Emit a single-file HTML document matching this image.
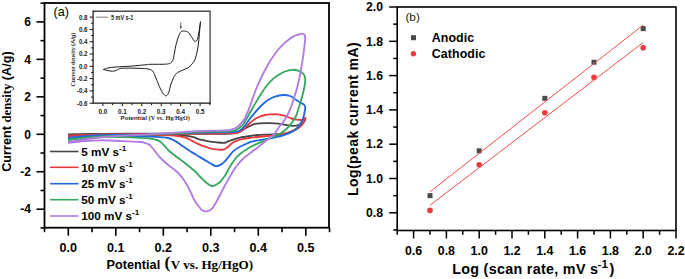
<!DOCTYPE html>
<html><head><meta charset="utf-8"><style>
html,body{margin:0;padding:0;background:#fff;}
svg{display:block;}
text{font-family:"Liberation Sans",sans-serif;}
.b{font-weight:bold;}
.serif{font-family:"Liberation Serif",serif;}
</style></head><body>
<svg width="685" height="279" viewBox="0 0 685 279">
<rect width="685" height="279" fill="#fff"/>

<path d="M68.80,134.40C74.00,134.30 88.13,133.93 100.00,133.80C111.87,133.67 126.67,133.62 140.00,133.60C153.33,133.58 170.00,133.65 180.00,133.70C190.00,133.75 192.50,133.88 200.00,133.90C207.50,133.92 219.33,133.92 225.00,133.80C230.67,133.68 231.50,133.57 234.00,133.20C236.50,132.83 238.17,132.38 240.00,131.60C241.83,130.82 243.33,129.43 245.00,128.50C246.67,127.57 248.33,126.77 250.00,126.00C251.67,125.23 253.33,124.35 255.00,123.90C256.67,123.45 257.50,123.42 260.00,123.30C262.50,123.18 266.90,123.13 270.00,123.20C273.10,123.27 275.97,123.40 278.60,123.70C281.23,124.00 283.42,124.65 285.80,125.00C288.18,125.35 290.75,125.78 292.90,125.80C295.05,125.82 297.10,125.53 298.70,125.10C300.30,124.67 301.45,124.00 302.50,123.20C303.55,122.40 304.58,120.78 305.00,120.30C304.42,121.10 303.03,123.58 301.50,125.10C299.97,126.62 298.38,128.02 295.80,129.40C293.22,130.78 290.00,132.57 286.00,133.40C282.00,134.23 276.55,134.13 271.80,134.40C267.05,134.67 261.13,134.73 257.50,135.00C253.87,135.27 252.90,135.57 250.00,136.00C247.10,136.43 242.92,137.00 240.10,137.60C237.28,138.20 235.25,138.88 233.10,139.60C230.95,140.32 228.77,141.35 227.20,141.90C225.63,142.45 225.45,142.82 223.70,142.90C221.95,142.98 219.22,142.65 216.70,142.40C214.18,142.15 211.32,141.85 208.60,141.40C205.88,140.95 202.93,140.40 200.40,139.70C197.87,139.00 196.13,137.87 193.40,137.20C190.67,136.53 187.90,136.05 184.00,135.70C180.10,135.35 177.33,135.30 170.00,135.10C162.67,134.90 151.67,134.63 140.00,134.50C128.33,134.37 111.87,134.30 100.00,134.30C88.13,134.30 74.00,134.47 68.80,134.50" fill="none" stroke="#474747" stroke-width="1.85" stroke-linejoin="round" stroke-linecap="round"/>
<path d="M68.80,135.70C74.00,135.47 86.47,134.62 100.00,134.30C113.53,133.98 133.33,133.93 150.00,133.80C166.67,133.67 186.67,133.57 200.00,133.50C213.33,133.43 223.83,133.52 230.00,133.40C236.17,133.28 235.17,133.15 237.00,132.80C238.83,132.45 239.67,132.10 241.00,131.30C242.33,130.50 243.50,129.38 245.00,128.00C246.50,126.62 248.33,124.50 250.00,123.00C251.67,121.50 253.33,120.08 255.00,119.00C256.67,117.92 258.32,117.17 260.00,116.50C261.68,115.83 263.43,115.35 265.10,115.00C266.77,114.65 267.98,114.52 270.00,114.40C272.02,114.28 274.82,114.10 277.20,114.30C279.58,114.50 281.92,114.90 284.30,115.60C286.68,116.30 289.50,117.83 291.50,118.50C293.50,119.17 294.67,119.35 296.30,119.60C297.93,119.85 300.05,120.13 301.30,120.00C302.55,119.87 303.08,119.17 303.80,118.80C304.52,118.43 305.30,117.97 305.60,117.80C305.40,118.22 304.97,119.22 304.40,120.30C303.83,121.38 303.32,122.95 302.20,124.30C301.08,125.65 299.72,127.08 297.70,128.40C295.68,129.72 293.03,131.17 290.10,132.20C287.17,133.23 283.15,134.03 280.10,134.60C277.05,135.17 275.57,135.20 271.80,135.60C268.03,136.00 261.13,136.62 257.50,137.00C253.87,137.38 252.12,137.62 250.00,137.90C247.88,138.18 246.83,138.30 244.80,138.70C242.77,139.10 239.95,139.55 237.80,140.30C235.65,141.05 233.67,141.98 231.90,143.20C230.13,144.42 228.57,146.55 227.20,147.60C225.83,148.65 225.05,149.15 223.70,149.50C222.35,149.85 221.03,149.82 219.10,149.70C217.17,149.58 214.45,149.30 212.10,148.80C209.75,148.30 207.35,147.53 205.00,146.70C202.65,145.87 200.13,144.77 198.00,143.80C195.87,142.83 194.13,141.88 192.20,140.90C190.27,139.92 188.55,138.67 186.40,137.90C184.25,137.13 182.03,136.73 179.30,136.30C176.57,135.87 176.55,135.52 170.00,135.30C163.45,135.08 151.67,135.07 140.00,135.00C128.33,134.93 111.87,134.72 100.00,134.90C88.13,135.08 74.00,135.90 68.80,136.10" fill="none" stroke="#e8383d" stroke-width="1.85" stroke-linejoin="round" stroke-linecap="round"/>
<path d="M68.80,137.80C74.00,137.37 86.47,135.77 100.00,135.20C113.53,134.63 133.33,134.82 150.00,134.40C166.67,133.98 187.00,133.05 200.00,132.70C213.00,132.35 222.00,132.48 228.00,132.30C234.00,132.12 234.00,131.90 236.00,131.60C238.00,131.30 238.50,131.52 240.00,130.50C241.50,129.48 243.33,127.50 245.00,125.50C246.67,123.50 248.43,120.55 250.00,118.50C251.57,116.45 252.60,115.28 254.40,113.20C256.20,111.12 258.65,108.13 260.80,106.00C262.95,103.87 264.93,101.97 267.30,100.40C269.67,98.83 272.37,97.50 275.00,96.60C277.63,95.70 280.58,95.10 283.10,95.00C285.62,94.90 288.12,95.30 290.10,96.00C292.08,96.70 293.35,98.13 295.00,99.20C296.65,100.27 298.57,101.57 300.00,102.40C301.43,103.23 302.73,103.50 303.60,104.20C304.47,104.90 304.93,106.20 305.20,106.60C305.17,107.17 305.30,108.20 305.00,110.00C304.70,111.80 304.12,115.20 303.40,117.40C302.68,119.60 301.68,121.50 300.70,123.20C299.72,124.90 298.87,126.22 297.50,127.60C296.13,128.98 294.42,130.38 292.50,131.50C290.58,132.62 288.73,133.35 286.00,134.30C283.27,135.25 279.65,136.37 276.10,137.20C272.55,138.03 268.52,138.62 264.70,139.30C260.88,139.98 255.65,140.82 253.20,141.30C250.75,141.78 251.37,141.68 250.00,142.20C248.63,142.72 246.82,143.57 245.00,144.40C243.18,145.23 240.98,146.12 239.10,147.20C237.22,148.28 235.32,149.47 233.70,150.90C232.08,152.33 230.83,154.10 229.40,155.80C227.97,157.50 226.53,159.63 225.10,161.10C223.67,162.57 222.32,163.75 220.80,164.60C219.28,165.45 217.62,166.33 216.00,166.20C214.38,166.07 212.80,164.73 211.10,163.80C209.40,162.87 207.58,161.67 205.80,160.60C204.02,159.53 202.20,158.48 200.40,157.40C198.60,156.32 196.95,155.30 195.00,154.10C193.05,152.90 190.92,151.63 188.70,150.20C186.48,148.77 183.85,146.97 181.70,145.50C179.55,144.03 177.75,142.57 175.80,141.40C173.85,140.23 172.63,139.22 170.00,138.50C167.37,137.78 165.00,137.47 160.00,137.10C155.00,136.73 150.00,136.50 140.00,136.30C130.00,136.10 111.87,135.58 100.00,135.90C88.13,136.22 74.00,137.82 68.80,138.20" fill="none" stroke="#2169e0" stroke-width="1.85" stroke-linejoin="round" stroke-linecap="round"/>
<path d="M68.80,139.60C74.00,139.05 86.47,137.13 100.00,136.30C113.53,135.47 133.33,135.32 150.00,134.60C166.67,133.88 187.00,132.52 200.00,132.00C213.00,131.48 222.17,131.77 228.00,131.50C233.83,131.23 233.17,130.97 235.00,130.40C236.83,129.83 237.67,129.08 239.00,128.10C240.33,127.12 241.52,126.43 243.00,124.50C244.48,122.57 246.28,119.28 247.90,116.50C249.52,113.72 250.88,110.95 252.70,107.80C254.52,104.65 256.70,100.98 258.80,97.60C260.90,94.22 263.18,90.38 265.30,87.50C267.42,84.62 269.38,82.33 271.50,80.30C273.62,78.27 275.75,76.77 278.00,75.30C280.25,73.83 282.63,72.42 285.00,71.50C287.37,70.58 289.80,69.85 292.20,69.80C294.60,69.75 297.48,70.45 299.40,71.20C301.32,71.95 302.73,73.00 303.70,74.30C304.67,75.60 305.02,77.22 305.20,79.00C305.38,80.78 304.87,84.00 304.80,85.00C304.55,86.17 303.90,89.50 303.30,92.00C302.70,94.50 301.98,97.33 301.20,100.00C300.42,102.67 299.50,105.25 298.60,108.00C297.70,110.75 297.22,113.65 295.80,116.50C294.38,119.35 292.02,122.72 290.10,125.10C288.18,127.48 286.15,129.27 284.30,130.80C282.45,132.33 281.55,133.00 279.00,134.30C276.45,135.60 272.58,137.05 269.00,138.60C265.42,140.15 261.08,141.92 257.50,143.60C253.92,145.28 250.37,147.02 247.50,148.70C244.63,150.38 242.22,152.15 240.30,153.70C238.38,155.25 237.72,155.87 236.00,158.00C234.28,160.13 231.77,163.65 230.00,166.50C228.23,169.35 226.98,172.60 225.40,175.10C223.82,177.60 222.23,179.80 220.50,181.50C218.77,183.20 216.48,184.57 215.00,185.30C213.52,186.03 213.10,186.37 211.60,185.90C210.10,185.43 207.95,184.07 206.00,182.50C204.05,180.93 201.83,178.45 199.90,176.50C197.97,174.55 196.75,172.93 194.40,170.80C192.05,168.67 188.67,165.95 185.80,163.70C182.93,161.45 180.05,159.50 177.20,157.30C174.35,155.10 171.08,152.68 168.70,150.50C166.32,148.32 164.82,145.95 162.90,144.20C160.98,142.45 161.02,141.05 157.20,140.00C153.38,138.95 149.53,138.40 140.00,137.90C130.47,137.40 111.87,136.65 100.00,137.00C88.13,137.35 74.00,139.50 68.80,140.00" fill="none" stroke="#36a95e" stroke-width="1.85" stroke-linejoin="round" stroke-linecap="round"/>
<path d="M68.80,142.00C74.00,141.25 88.13,138.70 100.00,137.50C111.87,136.30 128.33,135.55 140.00,134.80C151.67,134.05 160.00,133.63 170.00,133.00C180.00,132.37 190.83,131.42 200.00,131.00C209.17,130.58 219.67,130.75 225.00,130.50C230.33,130.25 230.17,129.95 232.00,129.50C233.83,129.05 234.67,128.63 236.00,127.80C237.33,126.97 238.50,126.13 240.00,124.50C241.50,122.87 243.42,120.83 245.00,118.00C246.58,115.17 248.08,111.17 249.50,107.50C250.92,103.83 252.15,99.67 253.50,96.00C254.85,92.33 256.30,88.58 257.60,85.50C258.90,82.42 260.02,80.17 261.30,77.50C262.58,74.83 263.80,72.28 265.30,69.50C266.80,66.72 268.52,63.63 270.30,60.80C272.08,57.97 274.00,55.10 276.00,52.50C278.00,49.90 280.30,47.25 282.30,45.20C284.30,43.15 286.07,41.72 288.00,40.20C289.93,38.68 292.07,37.05 293.90,36.10C295.73,35.15 297.58,34.92 299.00,34.50C300.42,34.08 301.48,33.52 302.40,33.60C303.32,33.68 304.02,34.22 304.50,35.00C304.98,35.78 305.17,37.75 305.30,38.30C305.18,39.42 304.85,42.88 304.60,45.00C304.35,47.12 304.13,48.50 303.80,51.00C303.47,53.50 303.22,56.12 302.60,60.00C301.98,63.88 300.98,69.77 300.10,74.30C299.22,78.83 298.25,83.42 297.30,87.20C296.35,90.98 295.60,93.32 294.40,97.00C293.20,100.68 291.78,105.38 290.10,109.30C288.42,113.22 285.92,117.88 284.30,120.50C282.68,123.12 282.00,122.82 280.40,125.00C278.80,127.18 276.77,131.22 274.70,133.60C272.63,135.98 269.82,137.82 268.00,139.30C266.18,140.78 265.45,141.18 263.80,142.50C262.15,143.82 260.00,145.70 258.10,147.20C256.20,148.70 254.32,150.07 252.40,151.50C250.48,152.93 248.52,154.25 246.60,155.80C244.68,157.35 242.80,158.77 240.90,160.80C239.00,162.83 236.88,165.62 235.20,168.00C233.52,170.38 232.70,171.85 230.80,175.10C228.90,178.35 226.03,183.35 223.80,187.50C221.57,191.65 219.32,196.53 217.40,200.00C215.48,203.47 214.03,206.42 212.30,208.30C210.57,210.18 208.67,210.97 207.00,211.30C205.33,211.63 203.65,211.10 202.30,210.30C200.95,209.50 200.17,208.08 198.90,206.50C197.63,204.92 196.17,203.40 194.70,200.80C193.23,198.20 191.82,194.23 190.10,190.90C188.38,187.57 186.55,183.95 184.40,180.80C182.25,177.65 179.77,174.53 177.20,172.00C174.63,169.47 171.78,167.93 169.00,165.60C166.22,163.27 162.92,160.50 160.50,158.00C158.08,155.50 156.28,152.77 154.50,150.60C152.72,148.43 151.32,146.25 149.80,145.00C148.28,143.75 147.03,143.60 145.40,143.10C143.77,142.60 144.23,142.35 140.00,142.00C135.77,141.65 126.67,141.28 120.00,141.00C113.33,140.72 106.67,140.22 100.00,140.30C93.33,140.38 85.20,141.08 80.00,141.50C74.80,141.92 70.67,142.58 68.80,142.80" fill="none" stroke="#b27be3" stroke-width="1.85" stroke-linejoin="round" stroke-linecap="round"/>
<rect x="44.5" y="3" width="284.5" height="224.7" fill="none" stroke="#000" stroke-width="1.8"/>
<line x1="40.5" y1="227.95" x2="44.5" y2="227.95" stroke="#000" stroke-width="1.6"/>
<line x1="36.5" y1="209.22" x2="44.5" y2="209.22" stroke="#000" stroke-width="1.6"/>
<text class="b" x="31" y="213.42" font-size="12" text-anchor="end">-4</text>
<line x1="40.5" y1="190.49" x2="44.5" y2="190.49" stroke="#000" stroke-width="1.6"/>
<line x1="36.5" y1="171.76" x2="44.5" y2="171.76" stroke="#000" stroke-width="1.6"/>
<text class="b" x="31" y="175.96" font-size="12" text-anchor="end">-2</text>
<line x1="40.5" y1="153.03" x2="44.5" y2="153.03" stroke="#000" stroke-width="1.6"/>
<line x1="36.5" y1="134.30" x2="44.5" y2="134.30" stroke="#000" stroke-width="1.6"/>
<text class="b" x="31" y="138.50" font-size="12" text-anchor="end">0</text>
<line x1="40.5" y1="115.57" x2="44.5" y2="115.57" stroke="#000" stroke-width="1.6"/>
<line x1="36.5" y1="96.84" x2="44.5" y2="96.84" stroke="#000" stroke-width="1.6"/>
<text class="b" x="31" y="101.04" font-size="12" text-anchor="end">2</text>
<line x1="40.5" y1="78.11" x2="44.5" y2="78.11" stroke="#000" stroke-width="1.6"/>
<line x1="36.5" y1="59.38" x2="44.5" y2="59.38" stroke="#000" stroke-width="1.6"/>
<text class="b" x="31" y="63.58" font-size="12" text-anchor="end">4</text>
<line x1="40.5" y1="40.65" x2="44.5" y2="40.65" stroke="#000" stroke-width="1.6"/>
<line x1="36.5" y1="21.92" x2="44.5" y2="21.92" stroke="#000" stroke-width="1.6"/>
<text class="b" x="31" y="26.12" font-size="12" text-anchor="end">6</text>
<line x1="40.5" y1="3.19" x2="44.5" y2="3.19" stroke="#000" stroke-width="1.6"/>
<line x1="44.55" y1="227.7" x2="44.55" y2="232.2" stroke="#000" stroke-width="1.6"/>
<line x1="68.30" y1="227.7" x2="68.30" y2="235.7" stroke="#000" stroke-width="1.6"/>
<text class="b" x="68.30" y="252" font-size="12.6" text-anchor="middle">0.0</text>
<line x1="92.05" y1="227.7" x2="92.05" y2="232.2" stroke="#000" stroke-width="1.6"/>
<line x1="115.80" y1="227.7" x2="115.80" y2="235.7" stroke="#000" stroke-width="1.6"/>
<text class="b" x="115.80" y="252" font-size="12.6" text-anchor="middle">0.1</text>
<line x1="139.55" y1="227.7" x2="139.55" y2="232.2" stroke="#000" stroke-width="1.6"/>
<line x1="163.30" y1="227.7" x2="163.30" y2="235.7" stroke="#000" stroke-width="1.6"/>
<text class="b" x="163.30" y="252" font-size="12.6" text-anchor="middle">0.2</text>
<line x1="187.05" y1="227.7" x2="187.05" y2="232.2" stroke="#000" stroke-width="1.6"/>
<line x1="210.80" y1="227.7" x2="210.80" y2="235.7" stroke="#000" stroke-width="1.6"/>
<text class="b" x="210.80" y="252" font-size="12.6" text-anchor="middle">0.3</text>
<line x1="234.55" y1="227.7" x2="234.55" y2="232.2" stroke="#000" stroke-width="1.6"/>
<line x1="258.30" y1="227.7" x2="258.30" y2="235.7" stroke="#000" stroke-width="1.6"/>
<text class="b" x="258.30" y="252" font-size="12.6" text-anchor="middle">0.4</text>
<line x1="282.05" y1="227.7" x2="282.05" y2="232.2" stroke="#000" stroke-width="1.6"/>
<line x1="305.80" y1="227.7" x2="305.80" y2="235.7" stroke="#000" stroke-width="1.6"/>
<text class="b" x="305.80" y="252" font-size="12.6" text-anchor="middle">0.5</text>
<line x1="329.55" y1="227.7" x2="329.55" y2="232.2" stroke="#000" stroke-width="1.6"/>
<text class="b" x="106.6" y="269" font-size="12.8" textLength="53.6" lengthAdjust="spacingAndGlyphs">Potential</text>
<text class="b serif" x="164.6" y="268.3" font-size="17.4">(</text>
<text class="b serif" x="170.8" y="268.9" font-size="13" textLength="82.2" lengthAdjust="spacingAndGlyphs">V vs. Hg/HgO)</text>
<text class="b" transform="translate(11.3,171.8) rotate(-90)" font-size="12.6" textLength="120.5">Current <tspan class="serif">density</tspan> (A/g)</text>
<text x="53.6" y="16" font-size="12.6">(a)</text>
<line x1="50" y1="151.5" x2="78.5" y2="151.5" stroke="#474747" stroke-width="1.6"/>
<text class="b" x="81.3" y="155.8" font-size="11.7">5 mV s<tspan dy="-4.9" font-size="8">-1</tspan></text>
<line x1="50" y1="167.3" x2="78.5" y2="167.3" stroke="#e8383d" stroke-width="1.6"/>
<text class="b" x="81.3" y="171.6" font-size="11.7">10 mV s<tspan dy="-4.9" font-size="8">-1</tspan></text>
<line x1="50" y1="183.7" x2="78.5" y2="183.7" stroke="#2169e0" stroke-width="1.6"/>
<text class="b" x="81.3" y="188.0" font-size="11.7">25 mV s<tspan dy="-4.9" font-size="8">-1</tspan></text>
<line x1="50" y1="199.7" x2="78.5" y2="199.7" stroke="#36a95e" stroke-width="1.6"/>
<text class="b" x="81.3" y="204.0" font-size="11.7">50 mV s<tspan dy="-4.9" font-size="8">-1</tspan></text>
<line x1="50" y1="216.0" x2="78.5" y2="216.0" stroke="#b27be3" stroke-width="1.6"/>
<text class="b" x="81.3" y="220.3" font-size="11.7">100 mV s<tspan dy="-4.9" font-size="8">-1</tspan></text>
<rect x="93.1" y="11.2" width="117.0" height="92.0" fill="#fff" stroke="none"/>
<path d="M93.1,11.2 H210.1 V103.2" fill="none" stroke="#4a4a4a" stroke-width="1.35"/>
<path d="M93.1,10.6 V103.2 H210.7" fill="none" stroke="#151515" stroke-width="1.2"/>
<line x1="89.6" y1="103.20" x2="93.1" y2="103.20" stroke="#151515" stroke-width="1"/>
<text class="b" x="87.5" y="105.60" font-size="6.6" text-anchor="end" fill="#222" textLength="10.6" lengthAdjust="spacingAndGlyphs">-0.6</text>
<line x1="91.1" y1="97.05" x2="93.1" y2="97.05" stroke="#151515" stroke-width="1"/>
<line x1="89.6" y1="90.90" x2="93.1" y2="90.90" stroke="#151515" stroke-width="1"/>
<text class="b" x="87.5" y="93.30" font-size="6.6" text-anchor="end" fill="#222" textLength="10.6" lengthAdjust="spacingAndGlyphs">-0.4</text>
<line x1="91.1" y1="84.75" x2="93.1" y2="84.75" stroke="#151515" stroke-width="1"/>
<line x1="89.6" y1="78.60" x2="93.1" y2="78.60" stroke="#151515" stroke-width="1"/>
<text class="b" x="87.5" y="81.00" font-size="6.6" text-anchor="end" fill="#222" textLength="10.6" lengthAdjust="spacingAndGlyphs">-0.2</text>
<line x1="91.1" y1="72.45" x2="93.1" y2="72.45" stroke="#151515" stroke-width="1"/>
<line x1="89.6" y1="66.30" x2="93.1" y2="66.30" stroke="#151515" stroke-width="1"/>
<text class="b" x="87.5" y="68.70" font-size="6.6" text-anchor="end" fill="#222" textLength="8.6" lengthAdjust="spacingAndGlyphs">0.0</text>
<line x1="91.1" y1="60.15" x2="93.1" y2="60.15" stroke="#151515" stroke-width="1"/>
<line x1="89.6" y1="54.00" x2="93.1" y2="54.00" stroke="#151515" stroke-width="1"/>
<text class="b" x="87.5" y="56.40" font-size="6.6" text-anchor="end" fill="#222" textLength="8.6" lengthAdjust="spacingAndGlyphs">0.2</text>
<line x1="91.1" y1="47.85" x2="93.1" y2="47.85" stroke="#151515" stroke-width="1"/>
<line x1="89.6" y1="41.70" x2="93.1" y2="41.70" stroke="#151515" stroke-width="1"/>
<text class="b" x="87.5" y="44.10" font-size="6.6" text-anchor="end" fill="#222" textLength="8.6" lengthAdjust="spacingAndGlyphs">0.4</text>
<line x1="91.1" y1="35.55" x2="93.1" y2="35.55" stroke="#151515" stroke-width="1"/>
<line x1="89.6" y1="29.40" x2="93.1" y2="29.40" stroke="#151515" stroke-width="1"/>
<text class="b" x="87.5" y="31.80" font-size="6.6" text-anchor="end" fill="#222" textLength="8.6" lengthAdjust="spacingAndGlyphs">0.6</text>
<line x1="91.1" y1="23.25" x2="93.1" y2="23.25" stroke="#151515" stroke-width="1"/>
<line x1="89.6" y1="17.10" x2="93.1" y2="17.10" stroke="#151515" stroke-width="1"/>
<text class="b" x="87.5" y="19.50" font-size="6.6" text-anchor="end" fill="#222" textLength="8.6" lengthAdjust="spacingAndGlyphs">0.8</text>
<line x1="102.90" y1="103.2" x2="102.90" y2="106.2" stroke="#151515" stroke-width="1"/>
<text class="b" x="102.90" y="114" font-size="6.6" text-anchor="middle" fill="#222" textLength="8.8" lengthAdjust="spacingAndGlyphs">0.0</text>
<line x1="112.62" y1="103.2" x2="112.62" y2="105.2" stroke="#151515" stroke-width="1"/>
<line x1="122.34" y1="103.2" x2="122.34" y2="106.2" stroke="#151515" stroke-width="1"/>
<text class="b" x="122.34" y="114" font-size="6.6" text-anchor="middle" fill="#222" textLength="8.8" lengthAdjust="spacingAndGlyphs">0.1</text>
<line x1="132.06" y1="103.2" x2="132.06" y2="105.2" stroke="#151515" stroke-width="1"/>
<line x1="141.78" y1="103.2" x2="141.78" y2="106.2" stroke="#151515" stroke-width="1"/>
<text class="b" x="141.78" y="114" font-size="6.6" text-anchor="middle" fill="#222" textLength="8.8" lengthAdjust="spacingAndGlyphs">0.2</text>
<line x1="151.50" y1="103.2" x2="151.50" y2="105.2" stroke="#151515" stroke-width="1"/>
<line x1="161.22" y1="103.2" x2="161.22" y2="106.2" stroke="#151515" stroke-width="1"/>
<text class="b" x="161.22" y="114" font-size="6.6" text-anchor="middle" fill="#222" textLength="8.8" lengthAdjust="spacingAndGlyphs">0.3</text>
<line x1="170.94" y1="103.2" x2="170.94" y2="105.2" stroke="#151515" stroke-width="1"/>
<line x1="180.66" y1="103.2" x2="180.66" y2="106.2" stroke="#151515" stroke-width="1"/>
<text class="b" x="180.66" y="114" font-size="6.6" text-anchor="middle" fill="#222" textLength="8.8" lengthAdjust="spacingAndGlyphs">0.4</text>
<line x1="190.38" y1="103.2" x2="190.38" y2="105.2" stroke="#151515" stroke-width="1"/>
<line x1="200.10" y1="103.2" x2="200.10" y2="106.2" stroke="#151515" stroke-width="1"/>
<text class="b" x="200.10" y="114" font-size="6.6" text-anchor="middle" fill="#222" textLength="8.8" lengthAdjust="spacingAndGlyphs">0.5</text>
<line x1="209.82" y1="103.2" x2="209.82" y2="105.2" stroke="#151515" stroke-width="1"/>
<text class="b" x="120.6" y="120.2" font-size="6.1" fill="#222" textLength="69.2">Potential <tspan class="serif">(V vs. Hg/HgO)</tspan></text>
<text class="serif" transform="translate(74.8,86.6) rotate(-90)" font-size="6.2" font-weight="bold" fill="#3a3a3a" textLength="54">Current density <tspan class="b" style="font-family:Liberation Sans,sans-serif">(A/g)</tspan></text>
<line x1="95.8" y1="17.2" x2="107.9" y2="17.2" stroke="#9a9a9a" stroke-width="1.3"/>
<text class="b" x="111.1" y="19.5" font-size="6.5" fill="#222" textLength="22.2" lengthAdjust="spacingAndGlyphs">5 mV s-1</text>
<path d="M103.30,69.50C104.08,69.25 106.05,68.40 108.00,68.00C109.95,67.60 112.63,67.33 115.00,67.10C117.37,66.87 119.48,66.77 122.20,66.60C124.92,66.43 128.28,66.32 131.30,66.10C134.32,65.88 137.62,65.55 140.30,65.30C142.98,65.05 145.77,64.77 147.40,64.60C149.03,64.43 148.05,64.35 150.10,64.30C152.15,64.25 156.97,64.33 159.70,64.30C162.43,64.27 164.73,64.28 166.50,64.10C168.27,63.92 169.32,63.72 170.30,63.20C171.28,62.68 171.85,61.95 172.40,61.00C172.95,60.05 173.03,60.03 173.60,57.50C174.17,54.97 175.00,49.23 175.80,45.80C176.60,42.37 177.52,39.25 178.40,36.90C179.28,34.55 180.05,32.67 181.10,31.70C182.15,30.73 183.50,30.98 184.70,31.10C185.90,31.22 187.10,31.32 188.30,32.40C189.50,33.48 190.85,36.13 191.90,37.60C192.95,39.07 193.70,40.87 194.60,41.20C195.50,41.53 196.57,41.22 197.30,39.60C198.03,37.98 198.47,34.50 199.00,31.50C199.53,28.50 200.25,23.25 200.50,21.60C200.32,23.55 199.78,29.27 199.40,33.30C199.02,37.33 198.85,41.68 198.20,45.80C197.55,49.92 196.42,55.12 195.50,58.00C194.58,60.88 193.83,61.53 192.70,63.10C191.57,64.67 190.43,66.20 188.70,67.40C186.97,68.60 184.17,69.43 182.30,70.30C180.43,71.17 178.85,71.57 177.50,72.60C176.15,73.63 175.28,74.60 174.20,76.50C173.12,78.40 171.92,81.33 171.00,84.00C170.08,86.67 169.48,90.53 168.70,92.50C167.92,94.47 167.17,95.55 166.30,95.80C165.43,96.05 164.47,95.13 163.50,94.00C162.53,92.87 161.40,90.75 160.50,89.00C159.60,87.25 158.92,85.47 158.10,83.50C157.28,81.53 156.37,79.07 155.60,77.20C154.83,75.33 154.23,73.50 153.50,72.30C152.77,71.10 152.38,70.60 151.20,70.00C150.02,69.40 148.60,68.98 146.40,68.70C144.20,68.42 140.68,68.40 138.00,68.30C135.32,68.20 132.97,68.10 130.30,68.10C127.63,68.10 123.88,68.17 122.00,68.30C120.12,68.43 119.95,68.55 119.00,68.90C118.05,69.25 117.22,70.03 116.30,70.40C115.38,70.77 114.40,70.98 113.50,71.10C112.60,71.22 111.98,71.22 110.90,71.10C109.82,70.98 108.27,70.67 107.00,70.40C105.73,70.13 103.92,69.65 103.30,69.50" fill="none" stroke="#1a1a1a" stroke-width="1"/>
<line x1="180.8" y1="22.3" x2="180.8" y2="27" stroke="#333" stroke-width="0.7"/>
<path d="M179.7,26.2 L180.8,29.2 L181.9,26.2 Z" fill="#333"/>
<rect x="397.2" y="7" width="278.8" height="223.5" fill="none" stroke="#000" stroke-width="1.6"/>
<line x1="393.2" y1="229.95" x2="397.2" y2="229.95" stroke="#000" stroke-width="1.5"/>
<line x1="389.2" y1="212.80" x2="397.2" y2="212.80" stroke="#000" stroke-width="1.5"/>
<text class="b" x="383" y="217.00" font-size="12.2" text-anchor="end">0.8</text>
<line x1="393.2" y1="195.65" x2="397.2" y2="195.65" stroke="#000" stroke-width="1.5"/>
<line x1="389.2" y1="178.50" x2="397.2" y2="178.50" stroke="#000" stroke-width="1.5"/>
<text class="b" x="383" y="182.70" font-size="12.2" text-anchor="end">1.0</text>
<line x1="393.2" y1="161.35" x2="397.2" y2="161.35" stroke="#000" stroke-width="1.5"/>
<line x1="389.2" y1="144.20" x2="397.2" y2="144.20" stroke="#000" stroke-width="1.5"/>
<text class="b" x="383" y="148.40" font-size="12.2" text-anchor="end">1.2</text>
<line x1="393.2" y1="127.05" x2="397.2" y2="127.05" stroke="#000" stroke-width="1.5"/>
<line x1="389.2" y1="109.90" x2="397.2" y2="109.90" stroke="#000" stroke-width="1.5"/>
<text class="b" x="383" y="114.10" font-size="12.2" text-anchor="end">1.4</text>
<line x1="393.2" y1="92.75" x2="397.2" y2="92.75" stroke="#000" stroke-width="1.5"/>
<line x1="389.2" y1="75.60" x2="397.2" y2="75.60" stroke="#000" stroke-width="1.5"/>
<text class="b" x="383" y="79.80" font-size="12.2" text-anchor="end">1.6</text>
<line x1="393.2" y1="58.45" x2="397.2" y2="58.45" stroke="#000" stroke-width="1.5"/>
<line x1="389.2" y1="41.30" x2="397.2" y2="41.30" stroke="#000" stroke-width="1.5"/>
<text class="b" x="383" y="45.50" font-size="12.2" text-anchor="end">1.8</text>
<line x1="393.2" y1="24.15" x2="397.2" y2="24.15" stroke="#000" stroke-width="1.5"/>
<line x1="389.2" y1="7.00" x2="397.2" y2="7.00" stroke="#000" stroke-width="1.5"/>
<text class="b" x="383" y="11.20" font-size="12.2" text-anchor="end">2.0</text>
<line x1="397.20" y1="230.5" x2="397.20" y2="234.8" stroke="#000" stroke-width="1.5"/>
<line x1="413.60" y1="230.5" x2="413.60" y2="238.5" stroke="#000" stroke-width="1.5"/>
<text class="b" x="413.60" y="254.7" font-size="12.4" text-anchor="middle">0.6</text>
<line x1="430.00" y1="230.5" x2="430.00" y2="234.8" stroke="#000" stroke-width="1.5"/>
<line x1="446.40" y1="230.5" x2="446.40" y2="238.5" stroke="#000" stroke-width="1.5"/>
<text class="b" x="446.40" y="254.7" font-size="12.4" text-anchor="middle">0.8</text>
<line x1="462.80" y1="230.5" x2="462.80" y2="234.8" stroke="#000" stroke-width="1.5"/>
<line x1="479.20" y1="230.5" x2="479.20" y2="238.5" stroke="#000" stroke-width="1.5"/>
<text class="b" x="479.20" y="254.7" font-size="12.4" text-anchor="middle">1.0</text>
<line x1="495.60" y1="230.5" x2="495.60" y2="234.8" stroke="#000" stroke-width="1.5"/>
<line x1="512.00" y1="230.5" x2="512.00" y2="238.5" stroke="#000" stroke-width="1.5"/>
<text class="b" x="512.00" y="254.7" font-size="12.4" text-anchor="middle">1.2</text>
<line x1="528.40" y1="230.5" x2="528.40" y2="234.8" stroke="#000" stroke-width="1.5"/>
<line x1="544.80" y1="230.5" x2="544.80" y2="238.5" stroke="#000" stroke-width="1.5"/>
<text class="b" x="544.80" y="254.7" font-size="12.4" text-anchor="middle">1.4</text>
<line x1="561.20" y1="230.5" x2="561.20" y2="234.8" stroke="#000" stroke-width="1.5"/>
<line x1="577.60" y1="230.5" x2="577.60" y2="238.5" stroke="#000" stroke-width="1.5"/>
<text class="b" x="577.60" y="254.7" font-size="12.4" text-anchor="middle">1.6</text>
<line x1="594.00" y1="230.5" x2="594.00" y2="234.8" stroke="#000" stroke-width="1.5"/>
<line x1="610.40" y1="230.5" x2="610.40" y2="238.5" stroke="#000" stroke-width="1.5"/>
<text class="b" x="610.40" y="254.7" font-size="12.4" text-anchor="middle">1.8</text>
<line x1="626.80" y1="230.5" x2="626.80" y2="234.8" stroke="#000" stroke-width="1.5"/>
<line x1="643.20" y1="230.5" x2="643.20" y2="238.5" stroke="#000" stroke-width="1.5"/>
<text class="b" x="643.20" y="254.7" font-size="12.4" text-anchor="middle">2.0</text>
<line x1="659.60" y1="230.5" x2="659.60" y2="234.8" stroke="#000" stroke-width="1.5"/>
<line x1="676.00" y1="230.5" x2="676.00" y2="238.5" stroke="#000" stroke-width="1.5"/>
<text class="b" x="676.00" y="254.7" font-size="12.4" text-anchor="middle">2.2</text>
<rect x="427.50" y="193.15" width="5" height="5" fill="#4a4a4a"/>
<rect x="476.70" y="148.30" width="5" height="5" fill="#4a4a4a"/>
<rect x="542.30" y="95.81" width="5" height="5" fill="#4a4a4a"/>
<rect x="591.50" y="59.72" width="5" height="5" fill="#4a4a4a"/>
<rect x="640.70" y="26.11" width="5" height="5" fill="#4a4a4a"/>
<circle cx="430.00" cy="210.40" r="2.8" fill="#ec3b3f"/>
<circle cx="479.20" cy="164.69" r="2.8" fill="#ec3b3f"/>
<circle cx="544.80" cy="112.70" r="2.8" fill="#ec3b3f"/>
<circle cx="594.00" cy="77.40" r="2.8" fill="#ec3b3f"/>
<circle cx="643.20" cy="47.82" r="2.8" fill="#ec3b3f"/>
<line x1="430.00" y1="191.75" x2="643.20" y2="25.06" stroke="#f24f4f" stroke-width="1"/>
<line x1="430.00" y1="205.24" x2="643.20" y2="42.47" stroke="#f24f4f" stroke-width="1"/>
<text x="405.4" y="21.3" font-size="11.8" fill="#1a1a1a">(b)</text>
<rect x="411" y="35.2" width="5" height="5" fill="#4a4a4a"/>
<circle cx="413.4" cy="53.7" r="2.7" fill="#ec3b3f"/>
<text class="b" x="431.8" y="42" font-size="12.4" textLength="42.4">Anodic</text>
<text class="b" x="431.8" y="57.7" font-size="12.4" textLength="53.6">Cathodic</text>
<text class="b" x="452.2" y="273.6" font-size="14.3" textLength="145.8">Log (scan rate, mV s</text>
<text class="b" x="597.6" y="267.6" font-size="11.6">-1</text>
<text class="b" x="609.4" y="273.8" font-size="14.3">)</text>
<text class="b" transform="translate(357.9,195.9) rotate(-90)" font-size="14" textLength="153.5">Log(peak current mA)</text>
</svg></body></html>
